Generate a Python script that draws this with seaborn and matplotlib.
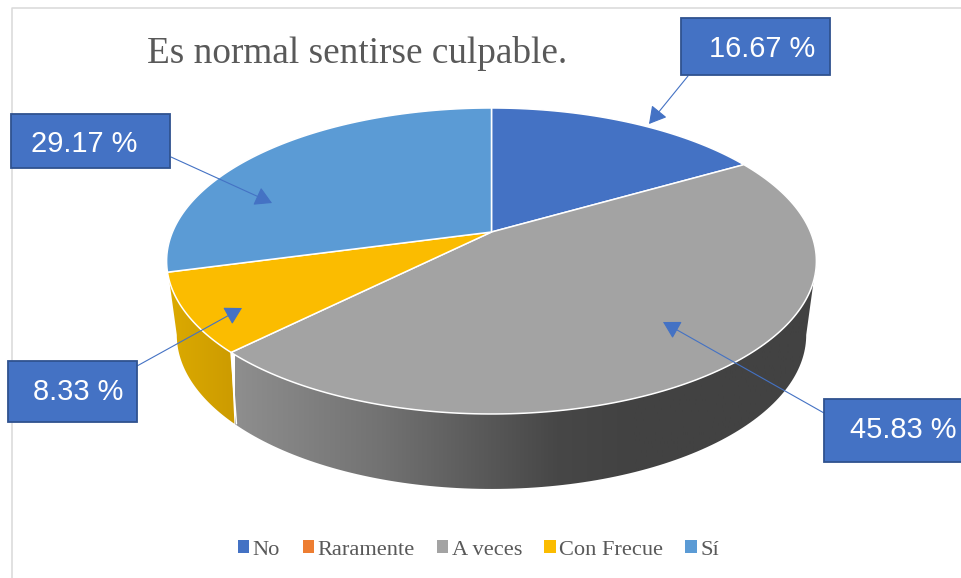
import numpy as np
import matplotlib
matplotlib.use("Agg")
import matplotlib.pyplot as plt
from matplotlib.colors import LinearSegmentedColormap
from matplotlib.patches import Patch, PathPatch, Rectangle
from matplotlib.path import Path
import seaborn as sns

categories = ["No", "Raramente", "A veces", "Con Frecue", "Sí"]
percent = [16.67, 0.0, 45.83, 8.33, 29.17]
slice_colors = ["#4472C4", "#ED7D31", "#A3A3A3", "#FBBC00", "#5B9BD5"]
title = "Es normal sentirse culpable."

# callouts: text, box (x0, y0, x1, y1), text centre, arrow start, arrow tip (pixels)
callouts = [
    ("16.67 %", (681, 18, 830, 75), (762.5, 49), (688, 76), (649, 124)),
    ("29.17 %", (11, 114, 170, 168), (84.5, 143.5), (171, 157), (272, 203)),
    ("8.33 %", (8, 361, 137, 422), (78, 392.5), (137, 366), (242, 308)),
    ("45.83 %", (824, 399, 975, 462), (903.5, 430), (824, 413), (663, 322)),
]

sns.set_theme(style="white")
plt.rcParams["font.family"] = ["Liberation Serif", "DejaVu Serif"]

GREY_TEXT = "#595959"
BLUE = "#4472C4"


def project(t, disc):
    # perspective view of the unit circle, t in degrees
    a, b, k, cx, cy = disc
    u = np.cos(np.radians(t))
    v = np.sin(np.radians(t))
    d = 1 + k * v
    return cx + a * u / d, cy - b * v / d


def extreme(disc):
    # angle where the ellipse reaches its widest point on the right
    return -np.degrees(np.arcsin(disc[2]))


top_disc = (319, 147.5, 0.1895, 491.5, 232)
bottom_disc = (307, 146.6, 0.22, 491.5, 301)

fig = plt.figure(figsize=(9.61, 5.78), dpi=100, facecolor="white")
ax = fig.add_axes([0, 0, 1, 1])
ax.set_xlim(0, 961)
ax.set_ylim(578, 0)
ax.axis("off")

# chart frame
ax.plot([12, 12, 961], [578, 8, 8], color="#D9D9D9", lw=1.1, zorder=1)

ends = 90 - np.cumsum(percent) * 3.6
starts = np.r_[90, ends[:-1]]
seam = ends[2]


def draw_wall(t_top, t_bottom, stops, x_range, z):
    xt, yt = project(t_top, top_disc)
    xb, yb = project(t_bottom[::-1], bottom_disc)
    verts = np.column_stack([np.r_[xt, xb], np.r_[yt, yb]])
    patch = PathPatch(Path(np.vstack([verts, verts[:1]]), closed=True),
                      transform=ax.transData, fc="none", ec="none")
    ax.add_patch(patch)
    cmap = LinearSegmentedColormap.from_list("wall", stops)
    im = ax.imshow(np.linspace(0, 1, 256)[None, :], cmap=cmap, aspect="auto",
                   extent=(x_range[0], x_range[1], 578, 0), zorder=z)
    im.set_clip_path(patch)


right_top = extreme(top_disc)
right_bottom = extreme(bottom_disc)
draw_wall(np.linspace(seam, right_top, 120), np.linspace(seam, right_bottom, 120),
          [(0, "#8E8E8E"), (0.25, "#727272"), (0.55, "#474747"), (0.68, "#424242"), (1, "#424242")],
          (235, 820), 2)
draw_wall(np.linspace(-180 - right_top, seam, 40), np.linspace(-180 - right_bottom, seam, 40),
          [(0, "#DCAA00"), (1, "#CB9A00")], (168, 240), 2)

# wall seam
sx_t, sy_t = project(seam, top_disc)
sx_b, sy_b = project(seam, bottom_disc)
ax.plot([sx_t, sx_b + 2], [sy_t, sy_b], color="white", lw=1.1, zorder=3)

# top face
for value, t0, t1, color in zip(percent, starts, ends, slice_colors):
    if value == 0:
        continue
    x, y = project(np.linspace(t0, t1, 160), top_disc)
    ax.fill(np.r_[top_disc[3], x], np.r_[top_disc[4], y], fc=color, ec="white",
            lw=1.1, joinstyle="round", zorder=4)

ax.text(357, 63, title, fontsize=26.8, color=GREY_TEXT, ha="center", va="baseline", zorder=6)

for label, box, centre, start, tip in callouts:
    ax.add_patch(Rectangle((box[0], box[1]), box[2] - box[0], box[3] - box[1], fc=BLUE,
                           ec="#2F528F", lw=1.3, zorder=7))
    ax.text(centre[0], centre[1], label, color="white", fontsize=20.9, ha="center",
            va="center", family=["Liberation Sans", "DejaVu Sans"], zorder=8)
    ax.annotate("", xy=tip, xytext=start, zorder=6,
                arrowprops=dict(arrowstyle="-|>,head_length=1.05,head_width=0.6", mutation_scale=10,
                                color=BLUE, lw=0.8, shrinkA=0, shrinkB=0))

handles = [Patch(fc=c, ec="none") for c in slice_colors]
leg = ax.legend(handles, categories, ncol=5, frameon=False, fontsize=16.1,
                labelcolor=GREY_TEXT, loc="center", bbox_to_anchor=(478.5, 550),
                bbox_transform=ax.transData, handlelength=0.5, handleheight=0.5,
                handletextpad=0.16, columnspacing=1.0, borderpad=0, borderaxespad=0)

fig.savefig("out.png", dpi=100, facecolor="white")
